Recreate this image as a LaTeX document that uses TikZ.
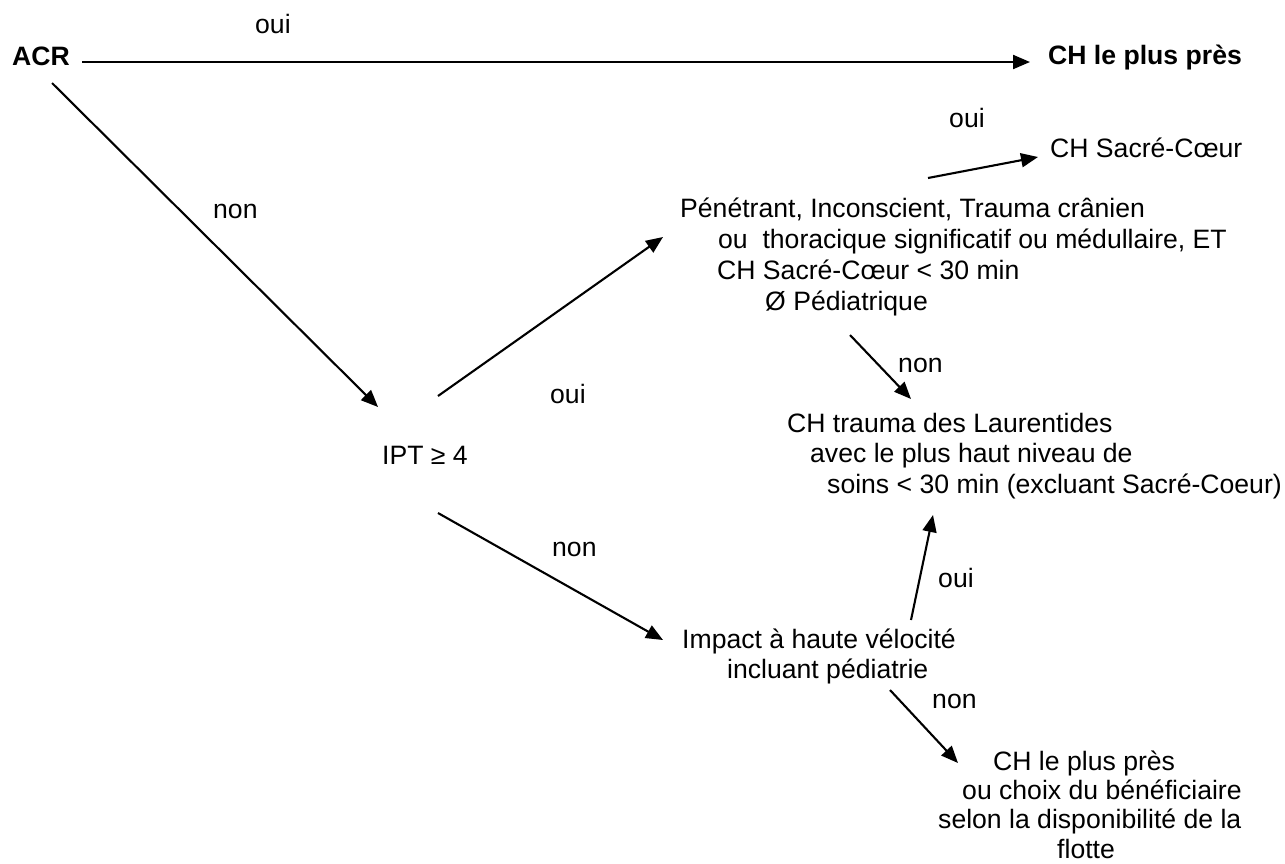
\documentclass[tikz,border=0pt]{standalone}
\usepackage{fontspec}
\setmainfont{Liberation Sans}
\usetikzlibrary{arrows.meta}
\begin{document}
\begin{tikzpicture}[x=1pt,y=-1pt,
  txt/.style={inner sep=0pt, anchor=base west, font=\fontsize{26.6}{30.4}\selectfont},
  blk/.style={inner sep=0pt, anchor=north west, align=left, font=\fontsize{26.6}{#1}\selectfont},
  conn/.style={line width=2.1pt, -{Triangle[length=17pt,width=14pt]}}]
\useasboundingbox (0,0) rectangle (1285,863);

% main texts
\node[txt] (acr) at (12,65) {\bfseries ACR};
\node[txt] (chpres) at (1048,64) {\bfseries CH le plus près};
\node[txt] (chsc) at (1050,157) {CH Sacré-Cœur};
\node[txt] (ipt) at (382,464) {IPT ≥ 4};
\node[blk=31] (pen) at (680,195.3) {\strut Pénétrant, Inconscient, Trauma crânien\\
  \hspace*{38pt}ou~~thoracique significatif ou médullaire, ET\\
  \hspace*{37pt}CH Sacré-Cœur < 30 min\\
  \hspace*{85pt}Ø Pédiatrique};
\node[blk=30.5] (trauma) at (787,410.6) {\strut CH trauma des Laurentides\\
  \hspace*{23pt}avec le plus haut niveau de\\
  \hspace*{40pt}soins < 30 min (excluant Sacré-Coeur)};
\node[blk=30] (impact) at (682,627) {\strut Impact à haute vélocité\\
  \hspace*{45pt}incluant pédiatrie};
\node[blk=29.4] (final) at (938,749.4) {\strut\hspace*{55pt}CH le plus près\\
  \hspace*{24pt}ou choix du bénéficiaire\\
  selon la disponibilité de la\\
  \hspace*{119pt}flotte};

% labels
\node[txt] (l1) at (255,33) {oui};
\node[txt] (l2) at (213,218) {non};
\node[txt] (l3) at (949,127) {oui};
\node[txt] (l4) at (550,403) {oui};
\node[txt] (l5) at (552,556) {non};
\node[txt] (l6) at (898,372) {non};
\node[txt] (l7) at (938,587) {oui};
\node[txt] (l8) at (932,708) {non};

% connector end points
\coordinate (acrR) at (82,62);
\coordinate (chpresL) at (1030,62);
\coordinate (acrB) at (52,83);
\coordinate (iptT) at (378,407);
\coordinate (iptUR) at (438,396);
\coordinate (penL) at (663,237);
\coordinate (iptLR) at (438,513);
\coordinate (impL) at (663,640);
\coordinate (penT) at (928,178);
\coordinate (chscL) at (1038,157);
\coordinate (penB) at (850,335);
\coordinate (traT) at (911,399);
\coordinate (impT) at (911,620);
\coordinate (traB) at (933,515);
\coordinate (impB) at (890,690);
\coordinate (finT) at (958,763);

\draw[conn] (acrR) -- (chpresL);
\draw[conn] (acrB) -- (iptT);
\draw[conn] (iptUR) -- (penL);
\draw[conn] (iptLR) -- (impL);
\draw[conn] (penT) -- (chscL);
\draw[conn] (penB) -- (traT);
\draw[conn] (impT) -- (traB);
\draw[conn] (impB) -- (finT);
\end{tikzpicture}
\end{document}
